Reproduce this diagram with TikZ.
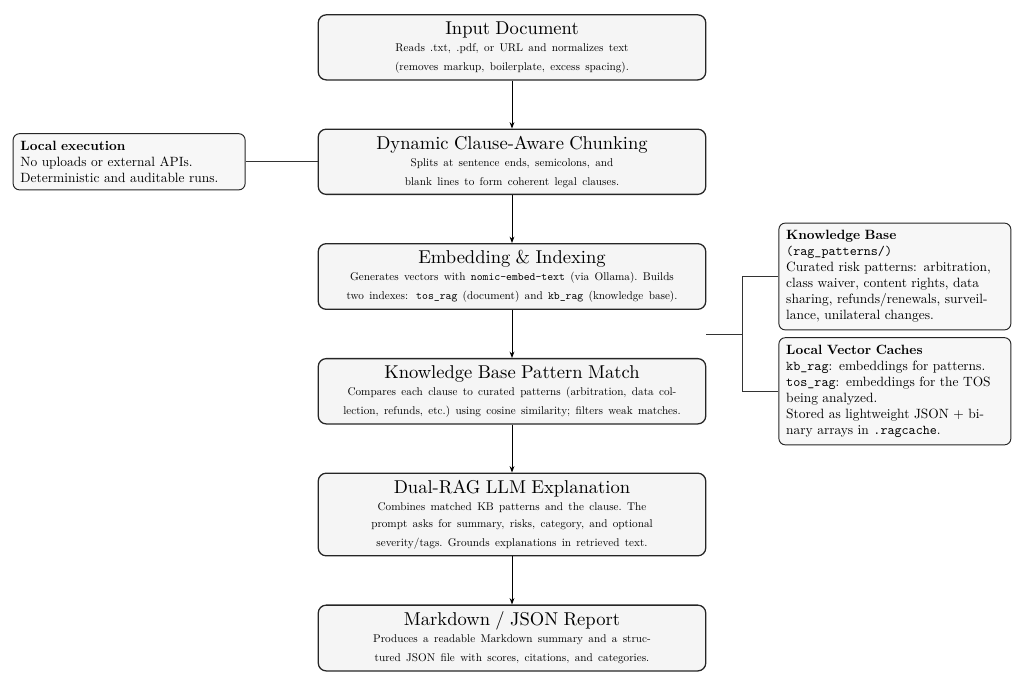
\documentclass[tikz,border=0pt]{standalone}
\usepackage{fontspec}
\setmainfont{lmroman10-regular.otf}[BoldFont=lmroman10-bold.otf,ItalicFont=lmroman10-italic.otf]
\setmonofont{lmmono10-regular.otf}
\usetikzlibrary{positioning,calc,arrows.meta}

\newcommand{\stagetitle}{\fontsize{11.6}{14}\selectfont}
\newcommand{\stagetext}{\fontsize{7}{10.6}\selectfont}
\newcommand{\notetext}{\fontsize{8.4}{10}\selectfont}

\tikzset{
  stage/.style={draw=black!85,line width=0.8pt,rounded corners=5pt,fill=black!4,
    text width=233pt,inner xsep=4.6pt,inner ysep=4.2pt,align=center},
  note/.style={draw=black!85,line width=0.6pt,rounded corners=4pt,fill=black!3,
    text width=135.8pt,inner sep=4.6pt,align=left,font=\notetext},
  flow/.style={-{Stealth[length=4pt,width=3pt]},line width=0.6pt},
  link/.style={line width=0.5pt,draw=black!80}
}

\begin{document}
\begin{tikzpicture}[node distance=30pt]
  \useasboundingbox (0,0) rectangle (640pt,-428.1pt);

  % main pipeline
  \node[stage] (input) at (320pt,-29.6pt)
    {\stagetitle Input Document\\\stagetext Reads .txt, .pdf, or URL and normalizes text\\(removes markup, boilerplate, excess spacing).};
  \node[stage,below=of input] (chunk)
    {\stagetitle Dynamic Clause-Aware Chunking\\\stagetext Splits at sentence ends, semicolons, and\\blank lines to form coherent legal clauses.};
  \node[stage,below=of chunk] (embed)
    {\stagetitle Embedding \& Indexing\\\stagetext Generates vectors with \texttt{nomic-embed-text} (via Ollama).\ Builds\\two indexes: \texttt{tos\_rag} (document) and \texttt{kb\_rag} (knowledge base).};
  \node[stage,below=of embed] (match)
    {\stagetitle Knowledge Base Pattern Match\\\stagetext Compares each clause to curated patterns (arbitration, data col-\\lection, refunds, etc.)\ using cosine similarity; filters weak matches.};
  \node[stage,below=of match] (explain)
    {\stagetitle Dual-RAG LLM Explanation\\\stagetext Combines matched KB patterns and the clause.\ The\\prompt asks for summary, risks, category, and optional\\severity/tags.\ Grounds explanations in retrieved text.};
  \node[stage,below=of explain] (report)
    {\stagetitle Markdown / JSON Report\\\stagetext Produces a readable Markdown summary and a struc-\\tured JSON file with scores, citations, and categories.};

  % side notes
  \node[note,left=45pt of chunk] (local)
    {\textbf{Local execution}\\No uploads or external APIs.\\Deterministic and auditable runs.};
  \node[note,right=45pt of embed] (kb)
    {\textbf{Knowledge Base}\\\texttt{(rag\_patterns/)}\\Curated risk patterns: arbitration,\\class waiver, content rights, data\\sharing, refunds/renewals, surveil-\\lance, unilateral changes.};
  \node[note,right=45pt of match] (cache)
    {\textbf{Local Vector Caches}\\\texttt{kb\_rag}: embeddings for patterns.\\\texttt{tos\_rag}: embeddings for the TOS\\being analyzed.\\Stored as lightweight JSON + bi-\\nary arrays in \texttt{.ragcache}.};

  \draw[flow] (input) -- (chunk);
  \draw[flow] (chunk) -- (embed);
  \draw[flow] (embed) -- (match);
  \draw[flow] (match) -- (explain);
  \draw[flow] (explain) -- (report);

  \draw[link] (local.east) -- (chunk.west);
  \coordinate (gapmid) at ($(embed.south)!0.5!(match.north)$);
  \coordinate (hub) at (embed.east |- gapmid);
  \coordinate (split) at ($(hub)+(22.5pt,0)$);
  \draw[link] (hub) -- (split);
  \draw[link] (split) |- (kb.west);
  \draw[link] (split) |- (cache.west);
\end{tikzpicture}
\end{document}
